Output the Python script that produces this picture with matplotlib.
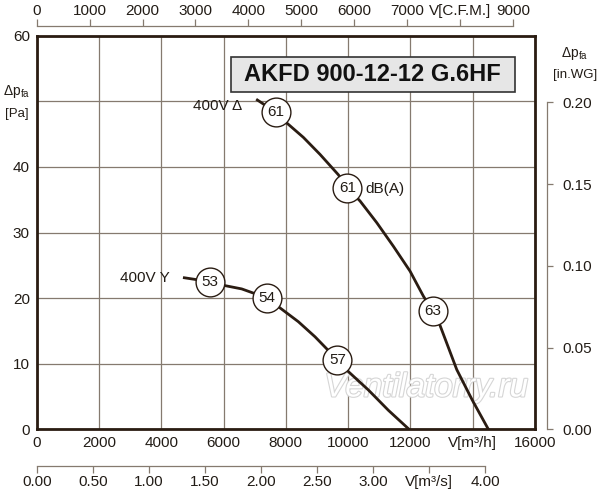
import matplotlib
matplotlib.use("Agg")
import matplotlib.pyplot as plt
import matplotlib.patheffects as pe
from matplotlib.patches import Rectangle

plt.rcParams['font.family'] = ['Liberation Sans', 'DejaVu Sans']
plt.rcParams['mathtext.fontset'] = 'custom'
plt.rcParams['mathtext.rm'] = 'Liberation Sans'

# kurve 400V delta: V [m3/h], dp [Pa]
delta_flow = [7084, 7685, 8028, 8562, 9098, 9686, 9975, 10382, 10918, 11452, 11988,
              12415, 12684, 12929, 13487, 13980, 14502]
delta_pa = [50.2, 48.3, 46.7, 44.5, 41.9, 38.8, 36.8, 34.8, 31.5, 27.9, 24.1,
            20.3, 18.2, 16.1, 9.1, 4.5, 0.0]
# kurve 400V Y
y_flow = [4740, 5565, 6047, 6583, 7405, 7813, 8401, 8937, 9653, 10006, 10648, 11291, 11955]
y_pa = [23.1, 22.5, 21.9, 21.4, 20.0, 18.5, 16.4, 14.1, 10.6, 8.8, 6.0, 2.9, 0.0]

# schallpegel dB(A) an den kurven
delta_db_flow = [7685, 9975, 12720]
delta_db_pa = [48.3, 36.8, 18.1]
delta_db = ['61', '61', '63']
y_db_flow = [5565, 7405, 9653]
y_db_pa = [22.5, 20.0, 10.6]
y_db = ['53', '54', '57']

x_ticks = [0, 2000, 4000, 6000, 8000, 10000, 12000, 14000, 16000]
x_labels = ['0', '2000', '4000', '6000', '8000', '10000', '12000', 'V[m³/h]', '16000']
y_ticks = [0, 10, 20, 30, 40, 50, 60]
y_labels = ['0', '10', '20', '30', '40', '', '60']
cfm_ticks = [0, 1000, 2000, 3000, 4000, 5000, 6000, 7000, 8000, 9000]
cfm_labels = ['0', '1000', '2000', '3000', '4000', '5000', '6000', '7000', 'V[C.F.M.]', '9000']
ms_ticks = [0, 0.5, 1.0, 1.5, 2.0, 2.5, 3.0, 3.5, 4.0]
ms_labels = ['0.00', '0.50', '1.00', '1.50', '2.00', '2.50', '3.00', 'V[m³/s]', '4.00']
wg_ticks = [0.0, 0.05, 0.10, 0.15, 0.20]
wg_labels = ['0.00', '0.05', '0.10', '0.15', '0.20']

CFM = 1.699     # m3/h pro CFM
INWG = 249.089  # Pa pro in.WG

dark = '#2a1c12'
gridc = '#857a6f'
txt = '#221c16'

fig = plt.figure(figsize=(6, 5), dpi=100)
ax = fig.add_axes([0.0612, 0.1414, 0.8305, 0.7872])

ax.set_xlim(0, 16000)
ax.set_ylim(0, 60)
ax.set_xticks(x_ticks, x_labels)
ax.set_yticks(y_ticks, y_labels)
ax.tick_params(length=0, labelsize=11, labelcolor=txt)
ax.tick_params(axis='x', pad=5)
ax.tick_params(axis='y', pad=5)
ax.grid(True, color=gridc, lw=0.9)
ax.set_axisbelow(True)
for s in ax.spines.values():
    s.set_color(dark)
    s.set_linewidth(2.0)

# kurven
ax.plot(delta_flow, delta_pa, color=dark, lw=2, zorder=3, solid_joinstyle='round')
ax.plot(y_flow, y_pa, color=dark, lw=2, zorder=3, solid_joinstyle='round')

for fx, py, lab in zip(delta_db_flow + y_db_flow, delta_db_pa + y_db_pa, delta_db + y_db):
    ax.scatter(fx, py, s=430, facecolor='white', edgecolor=dark, lw=1.0, zorder=4)
    ax.text(fx, py, lab, ha='center', va='center', fontsize=11, color=txt, zorder=5)

ax.text(6593, 49.3, '400V Δ', ha='right', va='center', fontsize=11, color=txt, zorder=5)
ax.text(4281, 23.1, '400V Y', ha='right', va='center', fontsize=11, color=txt, zorder=5)
ax.text(10543, 36.7, 'dB(A)', ha='left', va='center', fontsize=11, color=txt, zorder=5)

# titel
ax.add_patch(Rectangle((0.389, 0.857), 0.571, 0.089, transform=ax.transAxes,
                       facecolor='#e6e6e6', edgecolor='#333333', lw=1.2, zorder=6))
ax.text(0.6745, 0.9015, 'AKFD 900-12-12 G.6HF', transform=ax.transAxes,
        ha='center', va='center', fontsize=17, fontweight='bold', color='#111111', zorder=7)

# wasserzeichen
ax.text(0.782, 0.105, 'Ventilatorry.ru', transform=ax.transAxes, ha='center', va='center',
        fontsize=24, style='italic', color='white', zorder=2,
        path_effects=[pe.withStroke(linewidth=1.6, foreground='#d6d6d6')])

# zweitachsen
top = ax.secondary_xaxis(1.0246, functions=(lambda v: v / CFM, lambda c: c * CFM))
top.set_xticks(cfm_ticks, cfm_labels)
top.spines['top'].set_bounds(0, 9000)
top.spines['top'].set_color(gridc)
top.spines['top'].set_linewidth(0.9)
top.tick_params(length=5, width=0.9, color=gridc, labelsize=11, labelcolor=txt, pad=1)

bot = ax.secondary_xaxis(-0.0925, functions=(lambda v: v / 3600, lambda m: m * 3600))
bot.set_xticks(ms_ticks, ms_labels)
bot.spines['bottom'].set_bounds(0, 4.0)
bot.spines['bottom'].set_color(gridc)
bot.spines['bottom'].set_linewidth(0.9)
bot.tick_params(length=5, width=0.9, color=gridc, labelsize=11, labelcolor=txt, pad=2)

rgt = ax.secondary_yaxis(1.0235, functions=(lambda p: p / INWG, lambda w: w * INWG))
rgt.set_yticks(wg_ticks, wg_labels)
rgt.spines['right'].set_bounds(0, 0.20)
rgt.spines['right'].set_color(gridc)
rgt.spines['right'].set_linewidth(0.9)
rgt.tick_params(length=4, width=0.9, color=gridc, labelsize=11, labelcolor=txt, pad=7)

# achsbeschriftungen
fig.text(0.028, 0.816, r'Δp$_{\mathrm{fa}}$', ha='center', va='center', fontsize=10, color=txt)
fig.text(0.028, 0.772, '[Pa]', ha='center', va='center', fontsize=9.5, color=txt)
fig.text(0.957, 0.894, r'Δp$_{\mathrm{fa}}$', ha='center', va='center', fontsize=10, color=txt)
fig.text(0.958, 0.850, '[in.WG]', ha='center', va='center', fontsize=9.5, color=txt)

fig.savefig('out.png', dpi=100)
